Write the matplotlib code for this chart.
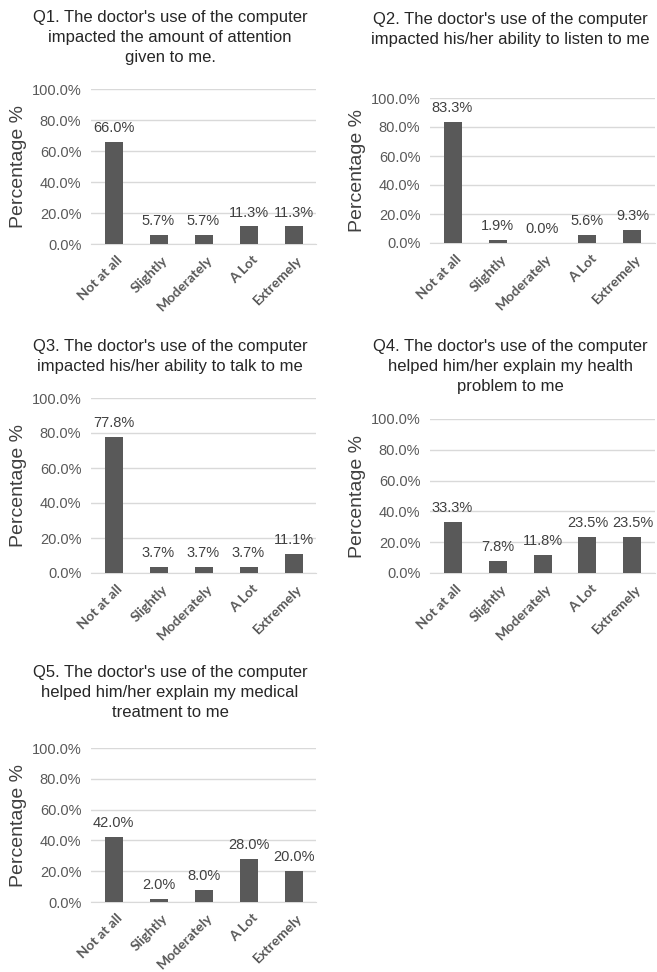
import matplotlib
matplotlib.use("Agg")
import matplotlib.pyplot as plt
import matplotlib.transforms as mtransforms
from matplotlib.ticker import FuncFormatter

W, H = 657, 972
plt.rcParams.update({"font.family": ["Liberation Sans", "DejaVu Sans"]})
BAR, TXT, GRID = "#595959", "#595959", "#d9d9d9"

categories = ["Not at all", "Slightly", "Moderately", "A Lot", "Extremely"]
q1 = [66.0, 5.7, 5.7, 11.3, 11.3]
q2 = [83.3, 1.9, 0.0, 5.6, 9.3]
q3 = [77.8, 3.7, 3.7, 3.7, 11.1]
q4 = [33.3, 7.8, 11.8, 23.5, 23.5]
q5 = [42.0, 2.0, 8.0, 28.0, 20.0]
titles = [
    "Q1. The doctor's use of the computer\nimpacted the amount of attention\ngiven to me.",
    "Q2. The doctor's use of the computer\nimpacted his/her ability to listen to me",
    "Q3. The doctor's use of the computer\nimpacted his/her ability to talk to me",
    "Q4. The doctor's use of the computer\nhelped him/her explain my health\nproblem to me",
    "Q5. The doctor's use of the computer\nhelped him/her explain my medical\ntreatment to me",
]

# pixel boxes: left, top, right, bottom of plot area; title centre x, title top y
boxes = [
    (91, 89, 316, 244, 170, 10),
    (430, 98, 655, 243, 510, 12),
    (91, 398, 316, 573, 170, 339),
    (430, 419, 655, 573, 510, 339),
    (91, 748, 316, 902, 170, 665),
]

fig = plt.figure(figsize=(W / 100, H / 100), dpi=100)
fig.patch.set_facecolor("white")
shift = mtransforms.ScaledTranslation(3 / 100, 0, fig.dpi_scale_trans)

for vals, title, (l, t, r, b, tx, ty) in zip([q1, q2, q3, q4, q5], titles, boxes):
    ax = fig.add_axes([l / W, 1 - b / H, (r - l) / W, (b - t) / H])
    x = range(len(categories))
    bars = ax.bar(x, [v / 100 for v in vals], 0.4, color=BAR, zorder=3)
    for bb, v in zip(bars, vals):
        ax.annotate(f"{v:.1f}%", (bb.get_x() + bb.get_width() / 2, bb.get_height()),
                    xytext=(0, 5), textcoords="offset points", ha="center", va="bottom",
                    fontsize=10.5, color="#404040", zorder=4)
    ax.set_xlim(-0.5, 4.5); ax.set_ylim(0, 1)
    ax.set_yticks([0, 0.2, 0.4, 0.6, 0.8, 1.0])
    ax.yaxis.set_major_formatter(FuncFormatter(lambda v, p: f"{v * 100:.1f}%"))
    ax.grid(axis="y", color=GRID, lw=1, zorder=0)
    for s in ["top", "right", "left"]:
        ax.spines[s].set_visible(False)
    ax.spines["bottom"].set_color(GRID)
    ax.tick_params(axis="both", length=0, colors=TXT, labelsize=10.5)
    ax.tick_params(axis="y", pad=7)
    ax.tick_params(axis="x", pad=7)
    ax.set_xticks(list(x))
    ax.set_xticklabels(categories, rotation=45, ha="right", rotation_mode="anchor",
                       family=["Lato", "DejaVu Sans"], fontweight="bold", fontsize=10)
    for lab in ax.get_xticklabels():
        lab.set_transform(lab.get_transform() + shift)
    ax.set_ylabel("Percentage %", fontsize=14, color="#404040")
    ax.yaxis.set_label_coords(-64 / (r - l), 0.5)
    fig.text(tx / W, 1 - ty / H, title, ha="center", va="top", fontsize=12,
             color="#262626", linespacing=1.4)

fig.savefig("out.png", dpi=100)
